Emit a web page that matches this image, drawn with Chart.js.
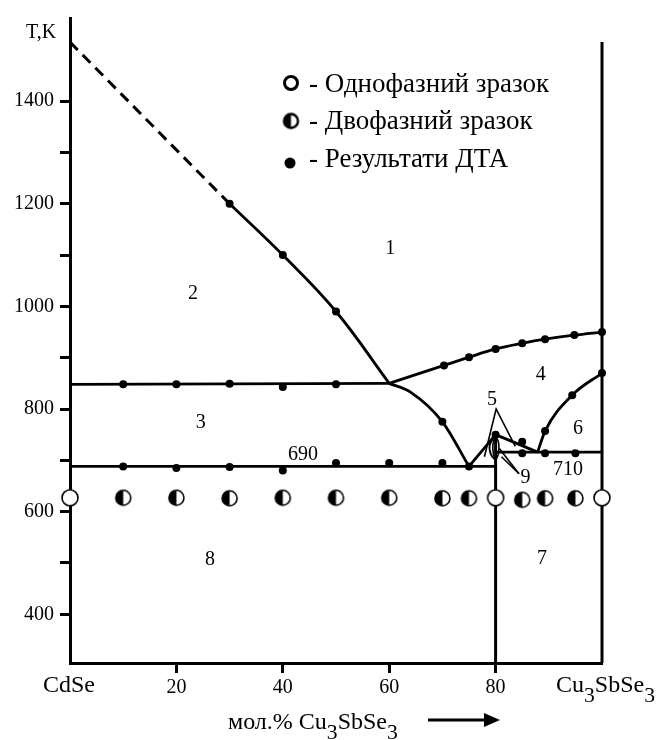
<!doctype html>
<html lang="uk">
<head>
    <title>CdSe - Cu3SbSe3</title>
    <meta charset="utf-8">
    <style type="text/css">
        html,
        body {
            margin: 0;
            padding: 0;
            background: #fff;
            overflow: hidden;
        }

        .chart-container {
            position: relative;
            width: 664px;
            height: 740px;
        }
    </style>
    <script src="https://cdn.jsdelivr.net/npm/chart.js@4.4.0/dist/chart.umd.min.js"></script>
</head>

<body>
    <div class="chart-container"><canvas id="chart"></canvas></div>
    <script>
        const FONT = "'Liberation Serif', 'Times New Roman', serif";

        // [mol.% Cu3SbSe3, T (K)]
        const liqDashed = [[0, 1515], [30, 1200]];
        const liqCdSe = [[30, 1200], [40, 1100], [50, 990], [60, 850]];
        const liqLow = [[60, 850], [64, 833], [70, 775], [75, 688]];
        const liqUpper = [[60, 850], [70.3, 885], [75, 901], [80, 917], [85, 928], [89.3, 936], [94.8, 944], [100, 950]];
        const liqRight = [[87.9, 716], [89.3, 757], [94.4, 827], [100, 870]];
        const line850 = [[0, 848], [60, 850]];
        const line690 = [[0, 688], [80, 688]];
        const line710 = [[80, 716], [100, 716]];
        const wall80 = [[80, 305], [80, 750]];
        const wall100 = [[100, 305], [100, 1515]];
        const rise75 = [[75, 688], [80, 750]];
        const fall80 = [[80, 750], [87.9, 716]];
        const lensA = [[80, 750], [78.9, 730], [79.1, 712], [80, 700]];
        const lensB = [[80, 750], [79.5, 731], [79.6, 712], [80, 702]];
        const lensC = [[80, 750], [80.6, 732], [80.5, 712], [80.1, 702]];
        const ptr5 = [[77.9, 707], [80.1, 800], [83.7, 727]];
        const ptr9a = [[80.7, 723], [84.4, 674]];
        const ptr9b = [[81.1, 707], [84.4, 674]];

        const dtaX = [30, 40, 50, 70, 75,
            70.3, 75, 80, 85, 89.3, 94.8, 100,
            100, 94.4, 89.3,
            10, 20, 30, 40, 50,
            10, 20, 30, 40, 50, 60, 70,
            80, 85, 85, 89.3, 95];
        const dtaT = [1200, 1100, 990, 775, 688,
            885, 901, 917, 928, 936, 944, 950,
            870, 827, 757,
            848, 848, 849, 843, 848,
            688, 685, 687, 680, 695, 695, 695,
            750, 736, 714, 714, 714];

        const twoPhaseX = [10, 20, 30, 40, 50, 60, 70, 75, 85, 89.3, 95];
        const twoPhaseT = [627, 627, 626, 627, 627, 627, 626, 626, 623, 626, 626];
        const onePhaseX = [0, 80, 100];
        const onePhaseT = [627, 627, 627];

        const yTicks = [400, 500, 600, 700, 800, 900, 1000, 1100, 1200, 1300, 1400];
        const xTicks = [20, 40, 60, 80];

        const legendItems = ["- Однофазний зразок", "- Двофазний зразок", "- Результати ДТА"];

        function pts(arr) {
            return arr.map(p => ({ x: p[0], y: p[1] }));
        }

        function zip(xs, ys) {
            return xs.map((x, i) => ({ x: x, y: ys[i] }));
        }

        function circleImg(r, lw, half) {
            const s = Math.ceil(2 * r + lw + 2);
            const c = document.createElement("canvas");
            c.width = s;
            c.height = s;
            const g = c.getContext("2d");
            const m = s / 2;
            g.beginPath();
            g.arc(m, m, r, 0, 2 * Math.PI);
            g.fillStyle = "#fff";
            g.fill();
            if (half) {
                g.beginPath();
                g.moveTo(m, m);
                g.arc(m, m, r, Math.PI / 2, 3 * Math.PI / 2);
                g.closePath();
                g.fillStyle = "#000";
                g.fill();
            }
            g.beginPath();
            g.arc(m, m, r, 0, 2 * Math.PI);
            g.lineWidth = lw;
            g.strokeStyle = "#000";
            g.stroke();
            return c;
        }

        const openImg = circleImg(8, 1.6, false);
        const halfImg = circleImg(7.5, 1.6, true);
        const legOpen = circleImg(6.5, 3, false);
        const legHalf = circleImg(7, 2.4, true);

        function curve(arr, opts) {
            return Object.assign({
                data: pts(arr),
                showLine: true,
                borderColor: "#000",
                borderWidth: 2.8,
                pointRadius: 0,
                pointHoverRadius: 0,
                fill: false,
                clip: false,
                tension: 0,
            }, opts || {});
        }

        // text with subscripts: parts = [[text, isSub], ...]
        function drawRich(ctx, parts, x, y, size) {
            let cx = x;
            parts.forEach(p => {
                const fs = p[1] ? size * 0.9 : size;
                ctx.font = fs + "px " + FONT;
                ctx.fillText(p[0], cx, p[1] ? y + 10 : y);
                cx += ctx.measureText(p[0]).width;
            });
        }

        const decorPlugin = {
            id: "decor",
            afterDatasetsDraw(chart) {
                const ctx = chart.ctx;
                const xs = chart.scales.x;
                const ys = chart.scales.y;
                ctx.save();
                ctx.fillStyle = "#000";
                ctx.textAlign = "center";
                ctx.textBaseline = "middle";
                ctx.font = "20px " + FONT;
                const marks = [
                    ["1", 60.2, 1113], ["2", 23.1, 1025], ["3", 24.6, 773], ["4", 88.5, 866],
                    ["5", 79.3, 818], ["6", 95.5, 762], ["7", 88.7, 509], ["8", 26.3, 507],
                    ["9", 85.6, 666], ["690", 43.8, 711], ["710", 93.6, 682],
                ];
                marks.forEach(m => {
                    ctx.fillText(m[0], xs.getPixelForValue(m[1]), ys.getPixelForValue(m[2]));
                });

                // y axis title
                ctx.fillText("T,K", 41, 33);

                // x end labels
                ctx.textAlign = "left";
                ctx.textBaseline = "alphabetic";
                ctx.font = "24px " + FONT;
                ctx.fillText("CdSe", 43, 692);
                drawRich(ctx, [["Cu", false], ["3", true], ["SbSe", false], ["3", true]], 556, 692, 24);

                // axis title + arrow
                drawRich(ctx, [["мол.% Cu", false], ["3", true], ["SbSe", false], ["3", true]], 228, 729, 24);
                ctx.beginPath();
                ctx.moveTo(428, 720);
                ctx.lineTo(488, 720);
                ctx.lineWidth = 3;
                ctx.strokeStyle = "#000";
                ctx.stroke();
                ctx.beginPath();
                ctx.moveTo(484, 713);
                ctx.lineTo(500, 720);
                ctx.lineTo(484, 727);
                ctx.closePath();
                ctx.fill();

                // legend
                ctx.drawImage(legOpen, 291 - legOpen.width / 2, 83 - legOpen.height / 2);
                ctx.drawImage(legHalf, 291 - legHalf.width / 2, 121 - legHalf.height / 2);
                ctx.beginPath();
                ctx.arc(290, 163, 5.5, 0, 2 * Math.PI);
                ctx.fill();
                ctx.font = "27px " + FONT;
                ctx.fillText(legendItems[0], 309, 92);
                ctx.fillText(legendItems[1], 309, 129);
                ctx.fillText(legendItems[2], 309, 167);
                ctx.restore();
            }
        };

        const ctx = document.getElementById("chart").getContext("2d");

        new Chart(ctx, {
            type: "scatter",
            data: {
                datasets: [
                    {
                        data: zip(onePhaseX, onePhaseT),
                        pointStyle: openImg,
                        pointRadius: 8,
                        clip: false,
                    },
                    {
                        data: zip(twoPhaseX, twoPhaseT),
                        pointStyle: halfImg,
                        pointRadius: 8,
                        clip: false,
                    },
                    {
                        data: zip(dtaX, dtaT),
                        pointStyle: "circle",
                        pointRadius: 4,
                        backgroundColor: "#000",
                        borderWidth: 0,
                        clip: false,
                    },
                    curve(liqDashed, { borderDash: [11, 7], borderWidth: 3 }),
                    curve(liqCdSe, { tension: 0.4 }),
                    curve(liqLow, { cubicInterpolationMode: "monotone" }),
                    curve(liqUpper, { cubicInterpolationMode: "monotone" }),
                    curve(liqRight, { cubicInterpolationMode: "monotone" }),
                    curve(line850),
                    curve(line690),
                    curve(line710),
                    curve(wall80, { borderWidth: 3 }),
                    curve(wall100, { borderWidth: 3 }),
                    curve(rise75),
                    curve(fall80),
                    curve(lensA, { tension: 0.4, borderWidth: 1.8 }),
                    curve(lensB, { tension: 0.4, borderWidth: 1.6 }),
                    curve(lensC, { tension: 0.4, borderWidth: 1.6 }),
                    curve(ptr5, { borderWidth: 1.6 }),
                    curve(ptr9a, { borderWidth: 1.6 }),
                    curve(ptr9b, { borderWidth: 1.6 }),
                ],
            },
            options: {
                responsive: true,
                maintainAspectRatio: false,
                animation: false,
                events: [],
                layout: {
                    padding: { top: 13, right: 62, left: 0, bottom: 0 },
                },
                plugins: {
                    legend: { display: false },
                    tooltip: { enabled: false },
                },
                scales: {
                    x: {
                        type: "linear",
                        min: 0,
                        max: 100,
                        afterFit: (s) => { s.height = 77; },
                        afterBuildTicks: (s) => { s.ticks = xTicks.map(v => ({ value: v })); },
                        border: { display: true, width: 3, color: "#000" },
                        grid: { drawOnChartArea: false, drawTicks: true, tickLength: 10, tickWidth: 3, tickColor: "#000" },
                        ticks: {
                            color: "#000",
                            padding: 3,
                            maxRotation: 0,
                            font: { family: FONT, size: 20 },
                            callback: (v) => String(v),
                        },
                    },
                    y: {
                        type: "linear",
                        min: 305,
                        max: 1562,
                        afterFit: (s) => { s.width = 70; },
                        afterBuildTicks: (s) => { s.ticks = yTicks.map(v => ({ value: v })); },
                        border: { display: true, width: 3, color: "#000" },
                        grid: { drawOnChartArea: false, drawTicks: true, tickLength: 10, tickWidth: 3, tickColor: "#000" },
                        ticks: {
                            color: "#000",
                            padding: 6,
                            font: { family: FONT, size: 20 },
                            callback: (v) => (v % 200 === 0 ? String(v) : ""),
                        },
                    },
                },
            },
            plugins: [decorPlugin],
        });
    </script>
</body>

</html>
